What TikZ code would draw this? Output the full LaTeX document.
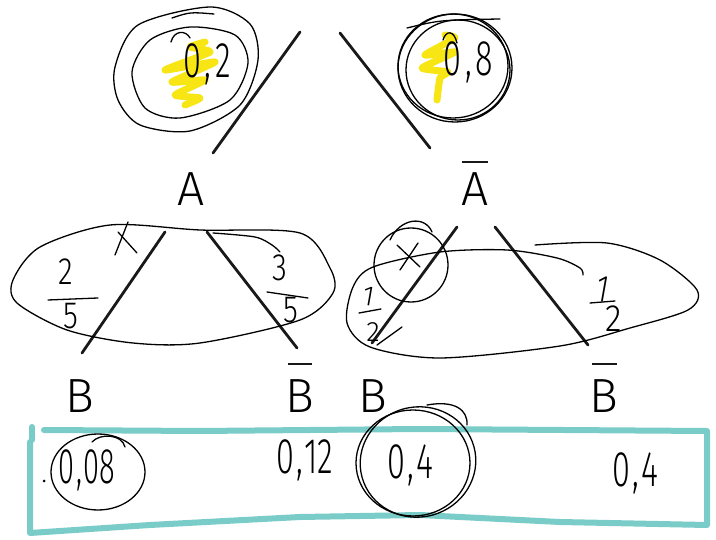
\documentclass[tikz,border=0pt]{standalone}
\usepackage{fontspec}
\newfontfamily\lf{Fira Sans Light}
\usetikzlibrary{calc}
\definecolor{tealbox}{RGB}{122,204,200}
\definecolor{hl}{RGB}{248,230,20}
\definecolor{ink}{RGB}{25,25,25}
\tikzset{
  tline/.style={line width=2.8pt, ink, line cap=round},
  hline/.style={line width=1.3pt, black, line cap=round, line join=round},
  marker/.style={line width=7pt, hl, line cap=round, line join=round},
  boxline/.style={line width=6pt, tealbox, line cap=round, line join=round},
  letter/.style={inner sep=0pt, font=\lf\fontsize{48}{48}\selectfont},
  bar/.style={line width=2.4pt, ink},
  hand/.style={inner sep=0pt, font=\lf\fontsize{50}{50}\selectfont},
  handsm/.style={inner sep=0pt, font=\lf\fontsize{38}{38}\selectfont},
  handxs/.style={inner sep=0pt, font=\lf\fontsize{28}{28}\selectfont},
}
\begin{document}
\begin{tikzpicture}[x=1pt,y=-1pt]
\useasboundingbox (0,0) rectangle (716,540);
\fill[white] (0,0) rectangle (716,540);

% highlighter scribbles
\draw[marker] plot[smooth, tension=0.3] coordinates {(205,42)(190,47)(210,52)(165,70)(215,62)(172,82)(205,80)(175,95)(200,98)(185,105)};
\draw[marker] plot[smooth, tension=0.3] coordinates {(445,35)(455,38)(425,55)(455,52)(422,68)(448,72)(440,78)(437,100)};

% tree branches
\coordinate (r1) at (300,32); \coordinate (r1e) at (213,153);
\coordinate (r2) at (340,33); \coordinate (r2e) at (430,148);
\coordinate (al1) at (165,232); \coordinate (al1e) at (82,353);
\coordinate (ar1) at (207,232); \coordinate (ar1e) at (297,348);
\coordinate (bl1) at (457,227); \coordinate (bl1e) at (372,343);
\coordinate (br1) at (495,227); \coordinate (br1e) at (588,345);
\draw[tline] (r1) -- (r1e);
\draw[tline] (r2) -- (r2e);
\draw[tline] (al1) -- (al1e);
\draw[tline] (ar1) -- (ar1e);
\draw[tline] (bl1) -- (bl1e);
\draw[tline] (br1) -- (br1e);

% letters
\node[letter] (A) at (191,189) {A};
\node[letter] (nA) at (475,189) {A};
\draw[bar] (462,162) -- (488,162);
\node[letter] (B1) at (80,396) {B};
\node[letter] (nB1) at (300,396) {B};
\draw[bar] (288,364) -- (312,364);
\node[letter] (B2) at (373,396) {B};
\node[letter] (nB2) at (604,396) {B};
\draw[bar] (592,364) -- (617,364);

% top probabilities
\node[hand] (p1) at (207,64) {\scalebox{0.65}[1]{0\hspace{6pt},\hspace{6pt}2}};
\node[hand] (p2) at (468,62) {\scalebox{0.65}[1]{0\hspace{6pt},\hspace{5pt}8}};
\draw[hline] plot[smooth cycle] coordinates {(115,67)(138,25)(210,7)(250,24)(258,60)(240,105)(190,131)(140,125)(118,100)};
\draw[hline] plot[smooth cycle] coordinates {(132,72)(150,40)(190,27)(235,35)(248,63)(230,100)(180,118)(145,108)};
\draw[hline] (172,18) .. controls (190,12) .. (214,14);
\draw[hline] (171,42) .. controls (174,30) and (186,30) .. (190,38);
\draw[hline] (455,68) ellipse [x radius=57, y radius=54];
\draw[hline] (458,70) ellipse [x radius=52, y radius=50];
\draw[hline] (453,66) ellipse [x radius=55, y radius=52];
\draw[hline] (407,28) .. controls (440,20) .. (500,19);
\draw[hline] (443,40) .. controls (446,30) and (454,30) .. (457,43);

% left ellipse with 2/5, 3/5
\draw[hline] plot[smooth cycle] coordinates {(110,225)(200,230)(300,233)(330,268)(333,293)(300,320)(200,343)(133,343)(67,330)(17,303)(13,280)(40,247)};
\draw[hline] plot[smooth] coordinates {(213,233)(255,237)(272,245)(280,252)};
\draw[hline] (115,255) -- (128,222);
\draw[hline] (118,232) -- (137,253);
\node[handsm] (f1) at (66,272) {\scalebox{0.8}[1]{2}};
\draw[hline] (48,300) -- (98,298);
\node[handsm] (f2) at (71,316) {\scalebox{0.8}[1]{5}};
\node[handsm] (f3) at (280,268) {\scalebox{0.8}[1]{3}};
\draw[hline] (267,292) -- (308,298);
\node[handsm] (f4) at (291,310) {\scalebox{0.8}[1]{5}};

% right ellipse with 1/2, 1/2
\draw[hline] plot[smooth] coordinates {(535,245)(607,243)(660,260)(697,290)(688,310)(630,328)(560,346)(440,358)(370,347)(347,323)(353,287)(373,267)(440,252)(507,250)(557,258)(580,268)(583,275)};
\draw[hline] (411,265) circle [radius=37];
\draw[hline] (390,240) .. controls (400,218) and (425,215) .. (432,232);
\draw[hline] (397,245) -- (420,267);
\draw[hline] (418,243) -- (400,270);
\node[handxs, rotate=-10] (f5) at (369,296) {1};
\draw[hline] (359,313) -- (381,309);
\node[handxs] (f6) at (373,332) {2};
\draw[hline] (377,345) -- (402,327);
\node[handsm, rotate=-10] (f7) at (603,289) {\scalebox{0.8}[1]{1}};
\draw[hline] (590,303) -- (615,301);
\node[handsm] (f8) at (614,319) {\scalebox{0.9}[1]{2}};

% result box
\draw[boxline] (44,430) -- (200,431) -- (420,429) -- (707,431) -- (707,525) -- (560,522) -- (420,515) -- (300,517) -- (150,525) -- (30,533) -- (30,442);
\draw[boxline] (32,427) -- (32,440);

% results
\node[hand] (q1) at (87,470) {\scalebox{0.58}[1]{0\hspace{3pt},\hspace{2pt}08}};
\fill (44,481) circle [radius=1.5];
\draw[hline] (98,472) ellipse [x radius=47, y radius=38];
\draw[hline] (92,442) .. controls (100,433) and (122,434) .. (125,447);
\node[hand] (q2) at (305,460) {\scalebox{0.65}[1]{0\hspace{2pt},\hspace{2pt}12}};
\node[hand] (q3) at (410,465) {\scalebox{0.65}[1]{0\hspace{4pt},\hspace{3pt}4}};
\draw[hline] (413,463) ellipse [x radius=57, y radius=53];
\draw[hline, rotate around={15:(418,462)}] (418,462) ellipse [x radius=58, y radius=55];
\draw[hline] (427,405) .. controls (455,400) and (468,410) .. (467,425);
\node[hand] (q4) at (635,473) {\scalebox{0.65}[1]{0\hspace{4pt},\hspace{3pt}4}};
\end{tikzpicture}
\end{document}
